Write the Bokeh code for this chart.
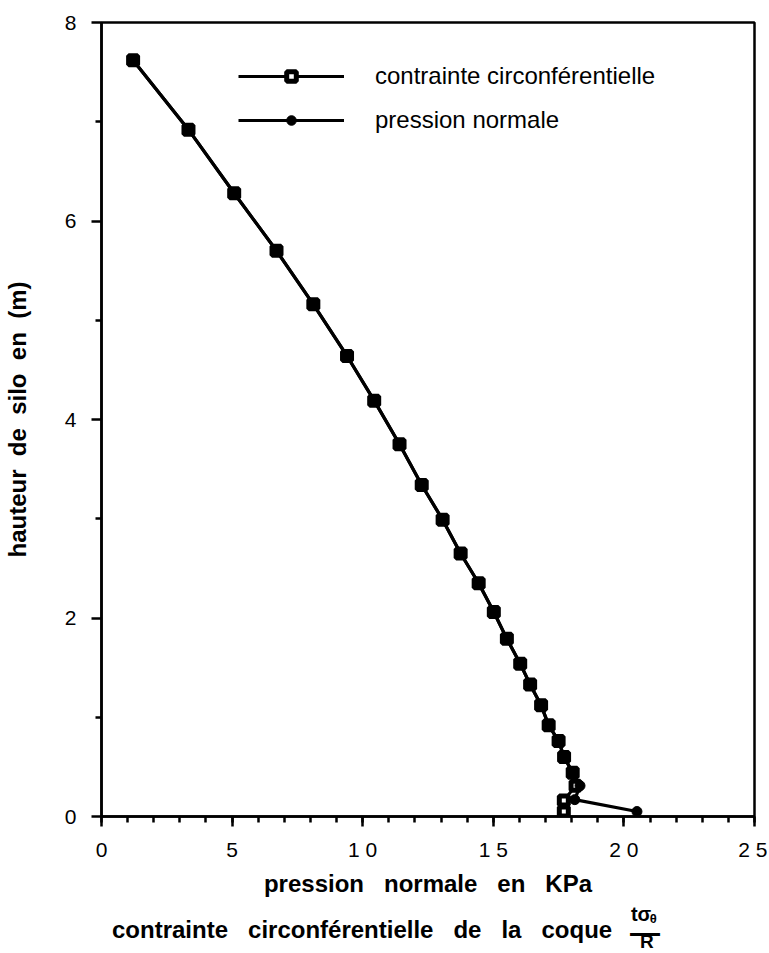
from bokeh.plotting import figure
from bokeh.layouts import column
from bokeh.models import Label, Legend, LegendItem, FixedTicker, Range1d
from bokeh.embed import file_html
from bokeh.resources import INLINE

# ---- data ----
hauteur_contrainte = [7.62, 6.92, 6.28, 5.70, 5.16, 4.64, 4.19, 3.75, 3.34, 2.99, 2.65, 2.35,
                      2.06, 1.79, 1.54, 1.33, 1.12, 0.92, 0.76, 0.60, 0.44, 0.31, 0.16, 0.05]
contrainte = [1.21, 3.33, 5.08, 6.70, 8.11, 9.40, 10.44, 11.41, 12.26, 13.06, 13.75, 14.44,
              15.02, 15.52, 16.03, 16.41, 16.83, 17.12, 17.50, 17.71, 18.04, 18.15, 17.70, 17.70]

hauteur_pression = [7.62, 6.92, 6.28, 5.70, 5.16, 4.64, 4.19, 3.75, 3.34, 2.99, 2.65, 2.35,
                    2.06, 1.79, 1.54, 1.33, 1.12, 0.92, 0.76, 0.60, 0.44, 0.31, 0.17, 0.05]
pression = [1.21, 3.33, 5.08, 6.70, 8.11, 9.40, 10.44, 11.41, 12.26, 13.06, 13.75, 14.44,
             15.02, 15.52, 16.03, 16.41, 16.83, 17.12, 17.50, 17.71, 18.04, 18.32, 18.12, 20.50]

x_ticks = [0, 5, 10, 15, 20, 25]
x_tick_labels = ["0", "5", "1 0", "1 5", "2 0", "2 5"]
y_ticks = [0, 2, 4, 6, 8]
x_minor = list(range(0, 26))
y_minor = [1, 3, 5, 7]

serie_contrainte = "contrainte circonférentielle"
serie_pression = "pression normale"

W3 = "\u00a0\u00a0\u00a0"
W2 = "\u00a0\u00a0"
x_title = W3.join(["pression", "normale", "en", "KPa"])
x_title2 = W3.join(["contrainte", "circonférentielle", "de", "la", "coque"])
y_title = W2.join(["hauteur", "de", "silo", "en", "(m)"])

FONT = "Liberation Sans"

P_H = 866
S_H = 87

p = figure(width=767, height=P_H, x_range=Range1d(0, 25), y_range=Range1d(0, 8),
           output_backend="svg", toolbar_location=None,
           min_border_left=98, min_border_right=13, min_border_top=22,
           min_border_bottom=P_H - 22 - 794)

p.grid.visible = False
p.outline_line_color = "black"
p.outline_line_width = 2.5
p.background_fill_color = "white"
p.border_fill_color = "white"

p.xaxis.ticker = FixedTicker(ticks=x_ticks, minor_ticks=x_minor)
p.yaxis.ticker = FixedTicker(ticks=y_ticks, minor_ticks=y_minor)
p.xaxis.major_label_overrides = {t: l for t, l in zip(x_ticks, x_tick_labels)}

for ax in (p.xaxis[0], p.yaxis[0]):
    ax.axis_line_width = 2.5
    ax.axis_line_color = "black"
    ax.major_tick_in = 0
    ax.major_tick_out = 10
    ax.minor_tick_in = 0
    ax.minor_tick_out = 6
    ax.major_tick_line_width = 2.5
    ax.minor_tick_line_width = 2.5
    ax.major_tick_line_color = "black"
    ax.minor_tick_line_color = "black"
    ax.major_label_text_font = FONT
    ax.major_label_text_font_size = "21px"
    ax.major_label_text_color = "black"
    ax.axis_label_text_font = FONT
    ax.axis_label_text_font_size = "24px"
    ax.axis_label_text_font_style = "bold"
    ax.axis_label_text_color = "black"

p.xaxis.major_label_standoff = 11
p.yaxis.axis_label = y_title
p.yaxis.major_label_standoff = 15
p.yaxis.axis_label_standoff = 31

# series
l1 = p.line(contrainte, hauteur_contrainte, line_width=3.2, line_color="black")
m1 = p.scatter(contrainte, hauteur_contrainte, marker="square", size=9, line_width=5,
               line_color="black", fill_color="white")
l2 = p.line(pression, hauteur_pression, line_width=3.2, line_color="black")
m2 = p.scatter(pression, hauteur_pression, marker="circle", size=10,
               line_color="black", fill_color="black")

legend = Legend(items=[LegendItem(label=serie_contrainte, renderers=[l1, m1]),
                       LegendItem(label=serie_pression, renderers=[l2, m2])],
                location=(137, 682), orientation="vertical",
                glyph_width=106, glyph_height=24, label_standoff=31, spacing=16,
                padding=0, margin=0, border_line_alpha=0, background_fill_alpha=0,
                label_text_font=FONT, label_text_font_size="24px", label_text_color="black")
p.add_layout(legend)

# x titles (two lines, the second with the fraction t*sigma_theta / R) in a strip below
p2 = figure(width=767, height=S_H, x_range=p.x_range, y_range=Range1d(0, S_H),
            output_backend="svg", toolbar_location=None,
            x_axis_location=None, y_axis_location=None,
            min_border_left=98, min_border_right=13, min_border_top=0, min_border_bottom=0)
p2.grid.visible = False
p2.outline_line_color = None
p2.background_fill_color = "white"
p2.border_fill_color = "white"

def add_text(x, y, text, size, align="left"):
    p2.add_layout(Label(x=x, y=y, text=text, text_align=align,
                        text_baseline="alphabetic", text_font=FONT, text_font_size=size,
                        text_font_style="bold", text_color="black"))

add_text(12.5, 70, x_title, "24px", "center")
add_text(19.55, 24, x_title2, "24px", "right")
add_text(20.27, 40, "tσ", "20px")
add_text(20.99, 35, "θ", "13px")
add_text(20.81, 21.4, "\u2014", "30px", "center")
add_text(20.88, 12.5, "R", "19px", "center")

open("out.html", "w").write(file_html(column(p, p2, spacing=0), INLINE))
